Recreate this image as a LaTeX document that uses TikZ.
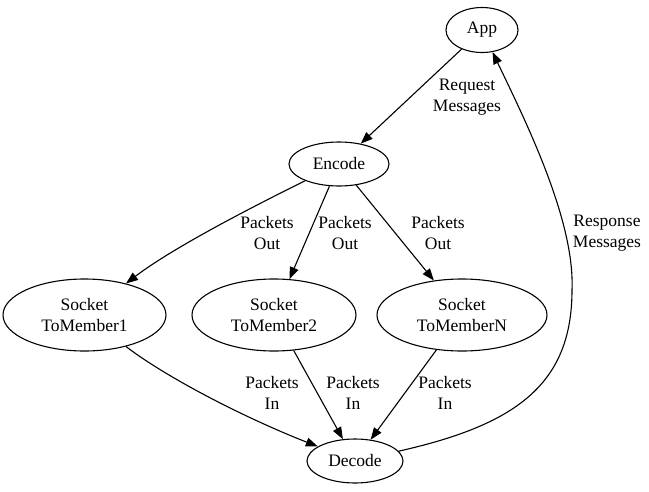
\documentclass[tikz,border=0pt]{standalone}
\usepackage{fontspec}
\setmainfont{Liberation Serif}
\usetikzlibrary{shapes.geometric,arrows.meta}
\begin{document}
\begin{tikzpicture}[x=1pt,y=-1pt,
  every node/.style={font=\fontsize{17.5}{20.5}\selectfont},
  nd/.style={draw,ellipse,line width=1.1pt,inner sep=0pt,align=center},
  lbl/.style={align=center,inner sep=0pt},
  edge/.style={line width=1.1pt,-{Triangle[length=12pt,width=9pt]}}]
\useasboundingbox (0,0) rectangle (649,491);
\node[nd,minimum width=72pt,minimum height=45pt] (app) at (482,30) {App};
\node[nd,minimum width=100pt,minimum height=44pt] (enc) at (339,164) {Encode};
\node[nd,minimum width=163pt,minimum height=72pt] (s1) at (84.5,315) {Socket\\ToMember1};
\node[nd,minimum width=164pt,minimum height=72pt] (s2) at (274,315) {Socket\\ToMember2};
\node[nd,minimum width=170pt,minimum height=72pt] (sn) at (462,315) {Socket\\ToMemberN};
\node[nd,minimum width=96pt,minimum height=44pt] (dec) at (355,461) {Decode};
% edges
\draw[edge] (app) -- (enc);
\draw[edge] (enc) .. controls (240,213) and (170,250) .. (s1);
\draw[edge] (enc) -- (s2);
\draw[edge] (enc) -- (sn);
\draw[edge] (s1) .. controls (170,380) and (250,420) .. (dec);
\draw[edge] (s2) -- (dec);
\draw[edge] (sn) -- (dec);
\coordinate (r1) at (572,290);
\draw[edge] (dec) .. controls (515,425) and (572,385) .. (r1)
  .. controls (575,220) and (525,120) .. (app);
% labels
\node[lbl] (lreq) at (467,97) {Request\\Messages};
\node[lbl] (lo1) at (267,233) {Packets\\Out};
\node[lbl] (lo2) at (345,233) {Packets\\Out};
\node[lbl] (lo3) at (438,233) {Packets\\Out};
\node[lbl] (lresp) at (607,233) {Response\\Messages};
\node[lbl] (li1) at (272,393) {Packets\\In};
\node[lbl] (li2) at (353,393) {Packets\\In};
\node[lbl] (li3) at (445,393) {Packets\\In};
\end{tikzpicture}
\end{document}
